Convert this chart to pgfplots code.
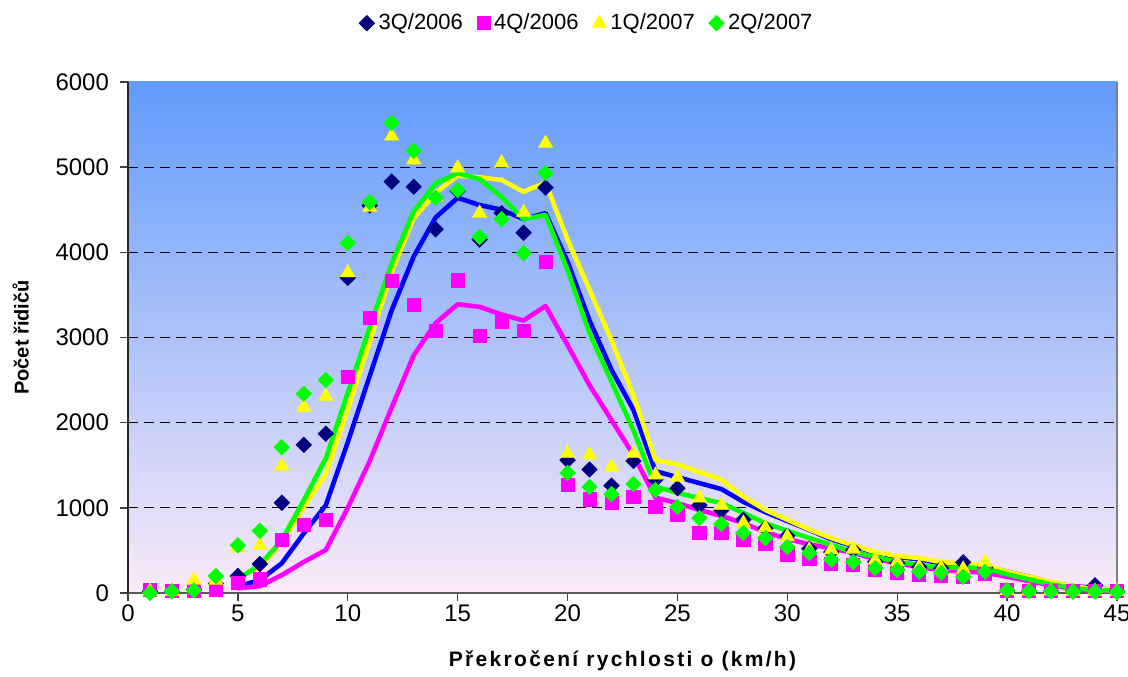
\documentclass[border=0pt]{standalone}
\usepackage{pgfplots}
\pgfplotsset{compat=1.18}
\usepackage{pgfplotstable}
\usepackage{fontspec}
\setmainfont{Liberation Sans}
\usetikzlibrary{calc}

\definecolor{navymark}{RGB}{0,0,128}
\definecolor{magentamark}{RGB}{255,0,255}
\definecolor{yellowmark}{RGB}{255,255,0}
\definecolor{greenmark}{RGB}{0,255,0}
\definecolor{blueline}{RGB}{0,0,255}
\definecolor{bgtop}{RGB}{97,155,252}
\definecolor{bgmid}{RGB}{148,192,248}
\definecolor{bgbot}{RGB}{251,234,248}

% measured counts of drivers per speeding excess (km/h)
\pgfplotstableread{
k  q3   q4   q1   q2
1  20   35   20   0
2  20   20   20   20
3  40   20   150  30
4  110  35   150  200
5  200  120  530  560
6  340  160  560  730
7  1060 620  1490 1710
8  1740 800  2180 2340
9  1870 860  2310 2500
10 3700 2540 3760 4110
11 4550 3230 4530 4590
12 4830 3660 5365 5520
13 4770 3380 5085 5190
14 4270 3080 4650 4640
15 4720 3670 4990 4730
16 4150 3020 4460 4180
17 4460 3190 5050 4390
18 4230 3080 4470 3990
19 4760 3890 5280 4930
20 1560 1270 1640 1410
21 1450 1100 1620 1245
22 1260 1060 1480 1160
23 1550 1130 1640 1280
24 1330 1010 1385 1210
25 1230 915  1360 1010
26 1030 705  1115 880
27 970  705  1030 810
28 860  630  820  705
29 760  575  765  645
30 670  445  660  540
31 520  400  505  470
32 480  340  505  390
33 505  330  515  365
34 365  270  385  290
35 350  235  365  270
36 305  210  305  250
37 290  200  290  235
38 360  190  280  190
39 300  230  360  250
40 30   30   30   30
41 25   25   25   20
42 25   25   25   20
43 20   20   20   15
44 90   20   20   15
45 20   20   20   10
}\markers

% smoothed curves per quarter
\pgfplotstableread{
k  q3   q4   q1   q2
5  80   55   175  165
6  150  80   310  330
7  350  210  590  620
8  700  365  1010 1090
9  1030 505  1400 1580
10 1770 1000 2160 2350
11 2550 1550 2950 3120
12 3320 2180 3770 3870
13 3950 2790 4400 4480
14 4410 3170 4700 4810
15 4640 3390 4900 4930
16 4555 3360 4880 4860
17 4500 3270 4850 4650
18 4390 3200 4710 4390
19 4460 3370 4820 4440
20 3890 2910 4150 3790
21 3200 2440 3560 3050
22 2620 2030 2970 2480
23 2150 1620 2320 1910
24 1430 1120 1560 1250
25 1360 1055 1510 1175
26 1290 975  1420 1115
27 1220 905  1330 1055
28 1070 820  1130 940
29 950  715  975  820
30 845  635  860  730
31 740  570  745  645
32 630  525  645  565
33 550  470  560  480
34 470  400  480  425
35 425  350  435  365
36 395  305  410  330
37 350  270  365  295
38 330  250  340  300
39 320  240  330  290
40 250  190  250  220
41 190  140  190  160
42 120  90   130  100
43 80   50   80   60
44 60   20   45   30
45 30   20   45   30
}\trends

\begin{document}
\begin{tikzpicture}
\begin{axis}[
  scale only axis,
  width=494.5pt, height=255.5pt,
  xmin=0, xmax=45, ymin=0, ymax=6000,
  xtick={0,5,...,45},
  ytick={0,1000,...,6000},
  extra y ticks={1000,2000,3000,4000,5000},
  extra y tick style={ymajorgrids=true, yticklabels={}, major tick length=0pt},
  major grid style={black, line width=0.5pt, dash pattern=on 5pt off 3pt},
  axis x line*=bottom,
  axis y line*=left,
  x axis line style={-, draw=black!65, line width=1.1pt},
  y axis line style={-, draw=black!85, line width=0.8pt},
  tick align=outside,
  major tick length=4pt,
  tick style={black!75, line width=0.7pt},
  /pgf/number format/assume math mode=true,
  /pgf/number format/1000 sep={},
  tick label style={font=\fontsize{12}{14}\selectfont},
  xticklabel style={yshift=1.5pt},
  yticklabel style={xshift=-2pt},
  xlabel={\fontsize{10.5}{12}\selectfont\bfseries\addfontfeature{LetterSpace=11}Překročení rychlosti o (km/h)},
  ylabel={\fontsize{10}{12}\selectfont\bfseries Počet řidičů},
  xlabel style={yshift=-7.5pt},
  ylabel style={yshift=2.5pt},
  axis background/.style={top color=bgtop, middle color=bgmid, bottom color=bgbot},
  legend style={at={(0.465,1.115)}, anchor=center, draw=none, fill=none,
    font=\fontsize{11}{13}\selectfont, legend cell align=left,
    /tikz/every even column/.append style={column sep=5pt}},
  legend columns=4,
  clip=false,
]
\addplot[only marks, mark=square*, mark size=2.7pt,
  mark options={rotate=45, draw=navymark, fill=navymark}]
  table[x=k, y=q3]{\markers};
\addlegendentry{3Q/2006}
\addplot[only marks, mark=square*, mark size=3.3pt,
  mark options={draw=magentamark, fill=magentamark}]
  table[x=k, y=q4]{\markers};
\addlegendentry{4Q/2006}
\addplot[only marks, mark=triangle*, mark size=4pt,
  mark options={draw=yellowmark, fill=yellowmark}]
  table[x=k, y=q1]{\markers};
\addlegendentry{1Q/2007}
\addplot[only marks, mark=square*, mark size=2.7pt,
  mark options={rotate=45, draw=greenmark, fill=greenmark}]
  table[x=k, y=q2]{\markers};
\addlegendentry{2Q/2007}

\addplot[forget plot, no marks, blueline, line width=2.3pt, line join=round]
  table[x=k, y=q3]{\trends};
\addplot[forget plot, no marks, magentamark, line width=2.3pt, line join=round]
  table[x=k, y=q4]{\trends};
\addplot[forget plot, no marks, yellowmark, line width=2.3pt, line join=round]
  table[x=k, y=q1]{\trends};
\addplot[forget plot, no marks, greenmark, line width=2.3pt, line join=round]
  table[x=k, y=q2]{\trends};

\draw[black!50, line width=1pt] (rel axis cs:1,0) -- (rel axis cs:1,1);
\end{axis}
\pgfresetboundingbox
\path[use as bounding box] ($(current axis.south west)+(-64pt,-42pt)$) rectangle ($(current axis.north east)+(5.5pt,41pt)$);
\end{tikzpicture}
\end{document}
